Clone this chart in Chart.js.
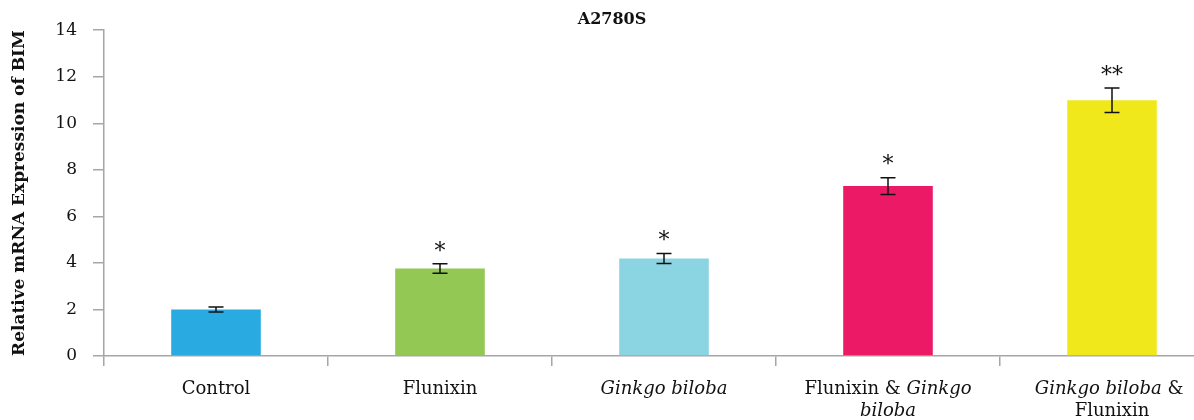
<!DOCTYPE html>
<html>
<head>
<meta charset="utf-8">
<script src="https://cdn.jsdelivr.net/npm/chart.js"></script>
<style>
  body { margin: 0; overflow: hidden; background: #fff; }
  #wrap { width: 1224px; height: 420px; position: relative; }
</style>
</head>
<body>
<div id="wrap"><canvas id="myChart"></canvas></div>
<script>
const categories = ["Control", "Flunixin", "Ginkgo biloba", "Flunixin & Ginkgo biloba", "Ginkgo biloba & Flunixin"];
const values = [2.0, 3.76, 4.19, 7.30, 10.99];
const errors = [0.11, 0.2, 0.21, 0.36, 0.53];
const marks = ["", "*", "*", "*", "**"];
const barColors = ["#29abe2", "#92c853", "#8bd4e2", "#ec1a66", "#f1e81c"];
const yMin = 0, yMax = 14, yStep = 2;

// label lines, each line is a list of [text, italic]
const labelLines = [
  [[["Control", false]]],
  [[["Flunixin", false]]],
  [[["Ginkgo biloba", true]]],
  [[["Flunixin & ", false], ["Ginkgo", true]], [["biloba", true]]],
  [[["Ginkgo biloba", true], [" & ", false]], [["Flunixin", false]]]
];

const serif = "'DejaVu Serif', serif";

const errorBars = {
  id: "errorBars",
  afterDatasetsDraw(chart) {
    const ctx = chart.ctx;
    const x = chart.scales.x, y = chart.scales.y;
    ctx.save();
    ctx.strokeStyle = "#111";
    ctx.lineWidth = 1.5;
    values.forEach((v, i) => {
      const cx = x.getPixelForValue(i);
      const top = y.getPixelForValue(v + errors[i]);
      const bot = y.getPixelForValue(v - errors[i]);
      ctx.beginPath();
      ctx.moveTo(cx, top); ctx.lineTo(cx, bot);
      ctx.moveTo(cx - 7.5, top); ctx.lineTo(cx + 7.5, top);
      ctx.moveTo(cx - 7.5, bot); ctx.lineTo(cx + 7.5, bot);
      ctx.stroke();
      if (marks[i]) {
        ctx.fillStyle = "#111";
        ctx.font = "22px " + serif;
        ctx.textAlign = "center";
        ctx.textBaseline = "middle";
        ctx.fillText(marks[i], cx, top - 12);
      }
    });
    ctx.restore();
  }
};

const catLabels = {
  id: "catLabels",
  afterDraw(chart) {
    const ctx = chart.ctx;
    const x = chart.scales.x;
    const base = chart.chartArea.bottom + 33;
    ctx.save();
    ctx.fillStyle = "#111";
    ctx.textBaseline = "middle";
    ctx.textAlign = "left";
    labelLines.forEach((lines, i) => {
      const cx = x.getPixelForValue(i);
      lines.forEach((segs, li) => {
        let w = 0;
        segs.forEach(s => {
          ctx.font = (s[1] ? "italic " : "") + "18px " + serif;
          w += ctx.measureText(s[0]).width;
        });
        let px = cx - w / 2;
        segs.forEach(s => {
          ctx.font = (s[1] ? "italic " : "") + "18px " + serif;
          ctx.fillText(s[0], px, base + li * 22);
          px += ctx.measureText(s[0]).width;
        });
      });
    });
    ctx.restore();
  }
};

new Chart("myChart", {
  type: "bar",
  data: {
    labels: categories,
    datasets: [{
      data: values,
      backgroundColor: barColors,
      categoryPercentage: 1.0,
      barPercentage: 0.4
    }]
  },
  options: {
    responsive: true,
    maintainAspectRatio: false,
    animation: false,
    layout: { padding: { left: 0, right: 0, top: 0, bottom: 0 } },
    plugins: {
      legend: { display: false },
      tooltip: { enabled: false },
      title: {
        display: true,
        text: "A2780S",
        color: "#111",
        font: { family: serif, size: 16, weight: "bold" },
        padding: { top: 10, bottom: 1 }
      }
    },
    scales: {
      x: {
        grid: { offset: true, drawOnChartArea: false, tickLength: 10, color: "#a6a6a6", lineWidth: 1.5 },
        border: { color: "#a6a6a6", width: 1.5 },
        ticks: { display: false },
        afterFit(s) { s.height = 64; }
      },
      y: {
        min: yMin,
        max: yMax,
        ticks: { stepSize: yStep, color: "#111", font: { family: serif, size: 17 }, padding: 16 },
        grid: { drawOnChartArea: false, tickLength: 11, color: "#a6a6a6", lineWidth: 1.5 },
        border: { color: "#a6a6a6", width: 1.5 },
        title: {
          display: true,
          text: "Relative mRNA Expression of BIM",
          color: "#111",
          font: { family: serif, size: 17, weight: "bold" },
          padding: { top: 9, bottom: 0 }
        },
        afterFit(s) { s.width = 104; }
      }
    }
  },
  plugins: [errorBars, catLabels]
});
</script>
</body>
</html>
